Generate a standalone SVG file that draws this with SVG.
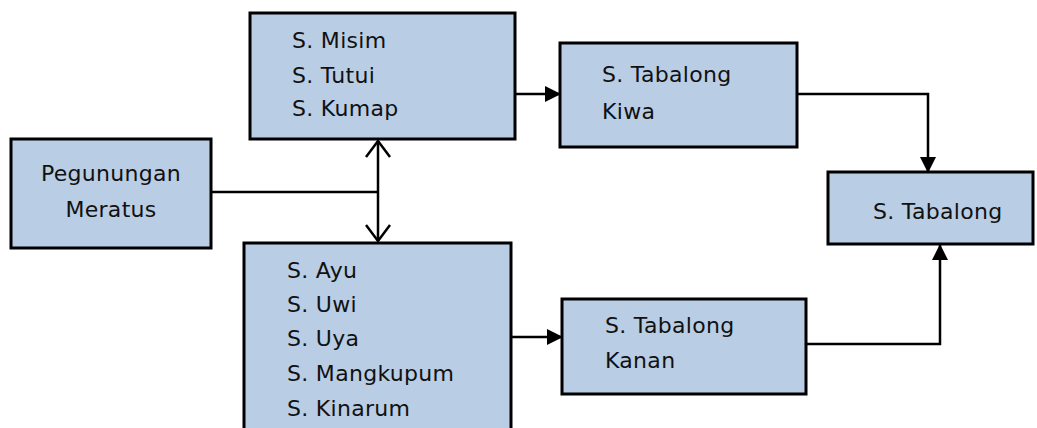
<svg xmlns="http://www.w3.org/2000/svg" width="1037" height="428" viewBox="0 0 1037 428">
<defs>
<style>
.box{fill:#b9cde5;stroke:#000;stroke-width:3}
.t{font-family:"DejaVu Sans",sans-serif;font-size:22px;letter-spacing:0.3px;fill:#111}
.c{fill:none;stroke:#000;stroke-width:2.5}
</style>
<marker id="fa" viewBox="0 0 16 16" refX="15" refY="8" markerWidth="16" markerHeight="16" markerUnits="userSpaceOnUse" orient="auto">
<path d="M0,0 L16,8 L0,16 Z" fill="#000"/>
</marker>
<marker id="oa" viewBox="0 0 18 26" refX="17" refY="13" markerWidth="18" markerHeight="26" markerUnits="userSpaceOnUse" orient="auto-start-reverse">
<path d="M1,1 L17,13 L1,25" fill="none" stroke="#000" stroke-width="2.5"/>
</marker>
</defs>
<rect width="1037" height="428" fill="#fff"/>
<g id="connectors">
<path class="c" d="M211,192 H378"/>
<path class="c" d="M378,141 V241" marker-start="url(#oa)" marker-end="url(#oa)"/>
<path class="c" d="M515,94 H560" marker-end="url(#fa)"/>
<path class="c" d="M797,94 H928 V172" marker-end="url(#fa)"/>
<path class="c" d="M511,337 H562" marker-end="url(#fa)"/>
<path class="c" d="M806,344 H940 V245" marker-end="url(#fa)"/>
</g>
<g id="misim">
<rect class="box" x="250" y="13" width="265" height="126"/>
<text class="t" x="292" y="48">S. Misim</text>
<text class="t" x="292" y="83">S. Tutui</text>
<text class="t" x="292" y="116">S. Kumap</text>
</g>
<g id="pegunungan">
<rect class="box" x="11" y="139" width="200" height="109"/>
<text class="t" x="111" y="181" text-anchor="middle">Pegunungan</text>
<text class="t" x="111" y="217" text-anchor="middle">Meratus</text>
</g>
<g id="ayu">
<rect class="box" x="244" y="243" width="267" height="200"/>
<text class="t" x="287" y="278">S. Ayu</text>
<text class="t" x="287" y="312">S. Uwi</text>
<text class="t" x="287" y="346">S. Uya</text>
<text class="t" x="287" y="381">S. Mangkupum</text>
<text class="t" x="287" y="416">S. Kinarum</text>
</g>
<g id="kiwa">
<rect class="box" x="560" y="43" width="237" height="104"/>
<text class="t" x="602" y="82">S. Tabalong</text>
<text class="t" x="602" y="119">Kiwa</text>
</g>
<g id="kanan">
<rect class="box" x="562" y="299" width="244" height="95"/>
<text class="t" x="605" y="333">S. Tabalong</text>
<text class="t" x="605" y="368">Kanan</text>
</g>
<g id="tabalong">
<rect class="box" x="828" y="172" width="205" height="72"/>
<text class="t" x="873" y="219">S. Tabalong</text>
</g>
</svg>
